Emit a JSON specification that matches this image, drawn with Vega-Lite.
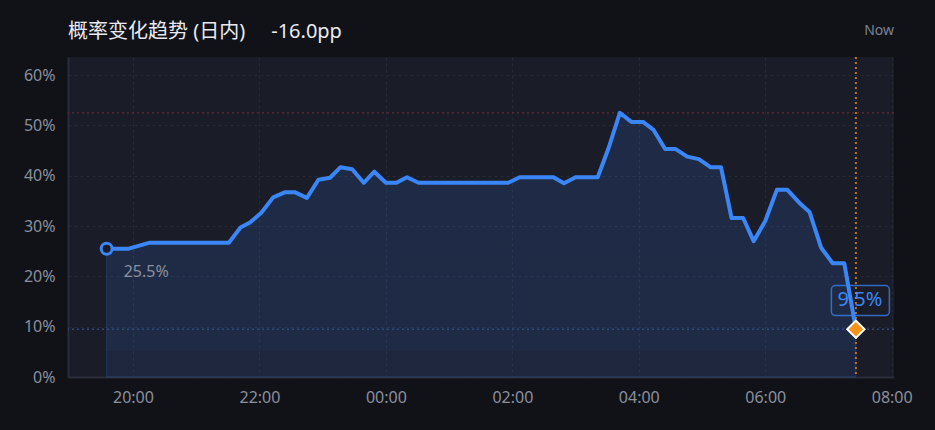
{
  "$schema": "https://vega.github.io/schema/vega-lite/v6.json",
  "autosize": {"type": "none"},
  "width": 826,
  "height": 320,
  "padding": {"left": 68, "top": 57, "right": 41, "bottom": 53},
  "background": "#111217",
  "config": {
    "view": {"fill": "#1a1c27", "stroke": null},
    "font": "Noto Sans",
    "axis": {
      "labelColor": "#8a8f9e",
      "labelFontSize": 16,
      "labelFont": "Noto Sans",
      "ticks": false,
      "domainColor": "#2a2d3b",
      "domainWidth": 2,
      "gridColor": "#262938",
      "gridDash": [3, 3],
      "gridWidth": 1,
      "labelFlush": false
    }
  },
  "title": {
    "text": "概率变化趋势 (日内)\u00a0\u00a0\u00a0\u00a0\u00a0-16.0pp",
    "anchor": "start",
    "frame": "group",
    "fontSize": 20,
    "fontWeight": "normal",
    "color": "#e8eaf0",
    "baseline": "alphabetic",
    "offset": -34,
    "font": "Noto Sans, Noto Sans CJK SC"
  },
  "datasets": {
    "series": [
      {"t": "2024-01-01T19:35:00Z", "v": 0.255},
      {"t": "2024-01-01T19:46:00Z", "v": 0.255},
      {"t": "2024-01-01T19:56:00Z", "v": 0.255},
      {"t": "2024-01-01T20:06:00Z", "v": 0.261},
      {"t": "2024-01-01T20:16:00Z", "v": 0.267},
      {"t": "2024-01-01T20:27:00Z", "v": 0.267},
      {"t": "2024-01-01T20:37:00Z", "v": 0.267},
      {"t": "2024-01-01T20:48:00Z", "v": 0.267},
      {"t": "2024-01-01T20:58:00Z", "v": 0.267},
      {"t": "2024-01-01T21:09:00Z", "v": 0.267},
      {"t": "2024-01-01T21:20:00Z", "v": 0.267},
      {"t": "2024-01-01T21:31:00Z", "v": 0.267},
      {"t": "2024-01-01T21:42:00Z", "v": 0.297},
      {"t": "2024-01-01T21:51:00Z", "v": 0.307},
      {"t": "2024-01-01T22:02:00Z", "v": 0.327},
      {"t": "2024-01-01T22:13:00Z", "v": 0.357},
      {"t": "2024-01-01T22:24:00Z", "v": 0.367},
      {"t": "2024-01-01T22:34:00Z", "v": 0.367},
      {"t": "2024-01-01T22:45:00Z", "v": 0.356},
      {"t": "2024-01-01T22:56:00Z", "v": 0.392},
      {"t": "2024-01-01T23:07:00Z", "v": 0.396},
      {"t": "2024-01-01T23:17:00Z", "v": 0.417},
      {"t": "2024-01-01T23:28:00Z", "v": 0.413},
      {"t": "2024-01-01T23:39:00Z", "v": 0.386},
      {"t": "2024-01-01T23:49:00Z", "v": 0.408},
      {"t": "2024-01-02T00:00:00Z", "v": 0.386},
      {"t": "2024-01-02T00:10:00Z", "v": 0.386},
      {"t": "2024-01-02T00:20:00Z", "v": 0.397},
      {"t": "2024-01-02T00:31:00Z", "v": 0.386},
      {"t": "2024-01-02T00:42:00Z", "v": 0.386},
      {"t": "2024-01-02T00:52:00Z", "v": 0.386},
      {"t": "2024-01-02T01:03:00Z", "v": 0.386},
      {"t": "2024-01-02T01:14:00Z", "v": 0.386},
      {"t": "2024-01-02T01:24:00Z", "v": 0.386},
      {"t": "2024-01-02T01:35:00Z", "v": 0.386},
      {"t": "2024-01-02T01:46:00Z", "v": 0.386},
      {"t": "2024-01-02T01:56:00Z", "v": 0.386},
      {"t": "2024-01-02T02:07:00Z", "v": 0.397},
      {"t": "2024-01-02T02:18:00Z", "v": 0.397},
      {"t": "2024-01-02T02:28:00Z", "v": 0.397},
      {"t": "2024-01-02T02:39:00Z", "v": 0.397},
      {"t": "2024-01-02T02:49:00Z", "v": 0.385},
      {"t": "2024-01-02T03:00:00Z", "v": 0.397},
      {"t": "2024-01-02T03:10:00Z", "v": 0.397},
      {"t": "2024-01-02T03:21:00Z", "v": 0.397},
      {"t": "2024-01-02T03:31:00Z", "v": 0.453},
      {"t": "2024-01-02T03:42:00Z", "v": 0.525},
      {"t": "2024-01-02T03:53:00Z", "v": 0.507},
      {"t": "2024-01-02T04:04:00Z", "v": 0.507},
      {"t": "2024-01-02T04:14:00Z", "v": 0.491},
      {"t": "2024-01-02T04:25:00Z", "v": 0.453},
      {"t": "2024-01-02T04:35:00Z", "v": 0.453},
      {"t": "2024-01-02T04:46:00Z", "v": 0.438},
      {"t": "2024-01-02T04:57:00Z", "v": 0.433},
      {"t": "2024-01-02T05:08:00Z", "v": 0.417},
      {"t": "2024-01-02T05:18:00Z", "v": 0.417},
      {"t": "2024-01-02T05:28:00Z", "v": 0.316},
      {"t": "2024-01-02T05:39:00Z", "v": 0.316},
      {"t": "2024-01-02T05:49:00Z", "v": 0.270},
      {"t": "2024-01-02T06:00:00Z", "v": 0.310},
      {"t": "2024-01-02T06:11:00Z", "v": 0.372},
      {"t": "2024-01-02T06:21:00Z", "v": 0.372},
      {"t": "2024-01-02T06:32:00Z", "v": 0.347},
      {"t": "2024-01-02T06:42:00Z", "v": 0.328},
      {"t": "2024-01-02T06:53:00Z", "v": 0.257},
      {"t": "2024-01-02T07:04:00Z", "v": 0.226},
      {"t": "2024-01-02T07:15:00Z", "v": 0.226},
      {"t": "2024-01-02T07:26:00Z", "v": 0.095}
    ],
    "start": [{"t": "2024-01-01T19:35:00Z", "v": 0.255, "label": "25.5%"}],
    "now": [{"t": "2024-01-02T07:26:00Z", "v": 0.095, "label": "9.5%"}],
    "peak": [{"v": 0.525}],
    "corner": [{"t": "2024-01-02T08:02:10Z", "v": 0.679, "label": "Now"}]
  },
  "layer": [
    {
      "data": {"name": "series"},
      "mark": {
        "type": "area",
        "color": {
          "gradient": "linear",
          "x1": 0, "y1": 0, "x2": 0, "y2": 1,
          "stops": [
            {"offset": 0, "color": "rgba(59,130,246,0.15)"},
            {"offset": 0.9, "color": "rgba(59,130,246,0.145)"},
            {"offset": 0.9, "color": "rgba(59,130,246,0.10)"},
            {"offset": 1, "color": "rgba(59,130,246,0.10)"}
          ]
        },
        "stroke": "#3b82f6",
        "strokeOpacity": 0.22,
        "strokeWidth": 1
      },
      "encoding": {
        "x": {
          "field": "t", "type": "temporal", "title": null,
          "scale": {"type": "utc", "domain": [1704135500000, 1704182530000]},
          "axis": {"format": "%H:%M", "values": [1704139200000, 1704146400000, 1704153600000, 1704160800000, 1704168000000, 1704175200000, 1704182400000], "labelPadding": 12, "labelOverlap": false}
        },
        "y": {
          "field": "v", "type": "quantitative", "title": null,
          "scale": {"domain": [0, 0.636], "nice": false},
          "axis": {"values": [0, 0.1, 0.2, 0.3, 0.4, 0.5, 0.6], "format": ".0%", "labelPadding": 13}
        }
      }
    },
    {
      "data": {"name": "peak"},
      "mark": {"type": "rule", "color": "#652b33", "strokeDash": [2, 3], "strokeWidth": 1.2},
      "encoding": {"y": {"field": "v", "type": "quantitative", "title": null}}
    },
    {
      "data": {"name": "now"},
      "mark": {"type": "rule", "color": "#2c4a80", "strokeDash": [2, 3], "strokeWidth": 1.5},
      "encoding": {"y": {"field": "v", "type": "quantitative", "title": null}}
    },
    {
      "data": {"name": "now"},
      "mark": {"type": "rule", "color": "#bd7212", "strokeDash": [2, 3], "strokeWidth": 2},
      "encoding": {"x": {"field": "t", "type": "temporal", "title": null}}
    },
    {
      "data": {"name": "series"},
      "mark": {"type": "line", "color": "#3b86f7", "strokeWidth": 4, "strokeJoin": "round", "strokeCap": "round"},
      "encoding": {
        "x": {"field": "t", "type": "temporal", "title": null},
        "y": {"field": "v", "type": "quantitative", "title": null}
      }
    },
    {
      "data": {"name": "start"},
      "mark": {"type": "point", "shape": "circle", "filled": true, "fill": "#1a1c27", "stroke": "#3b86f7", "strokeWidth": 3, "size": 120, "opacity": 1},
      "encoding": {
        "x": {"field": "t", "type": "temporal", "title": null},
        "y": {"field": "v", "type": "quantitative", "title": null}
      }
    },
    {
      "data": {"name": "start"},
      "mark": {"type": "text", "align": "left", "baseline": "middle", "dx": 17, "dy": 23, "fontSize": 16, "color": "#8a8f9e"},
      "encoding": {
        "x": {"field": "t", "type": "temporal", "title": null},
        "y": {"field": "v", "type": "quantitative", "title": null},
        "text": {"field": "label"}
      }
    },
    {
      "data": {"name": "now"},
      "mark": {"type": "point", "shape": "M-25,-15H25A4,4 0 0 1 29,-11V11A4,4 0 0 1 25,15H-25A4,4 0 0 1 -29,11V-11A4,4 0 0 1 -25,-15Z", "size": 4, "filled": false, "stroke": "#3b86f7", "strokeOpacity": 0.75, "strokeWidth": 1.5, "opacity": 1, "xOffset": 4.5, "yOffset": -28.6},
      "encoding": {
        "x": {"field": "t", "type": "temporal", "title": null},
        "y": {"field": "v", "type": "quantitative", "title": null}
      }
    },
    {
      "data": {"name": "now"},
      "mark": {"type": "text", "align": "center", "baseline": "middle", "dx": 4, "dy": -29, "fontSize": 20, "color": "#3b86f7"},
      "encoding": {
        "x": {"field": "t", "type": "temporal", "title": null},
        "y": {"field": "v", "type": "quantitative", "title": null},
        "text": {"field": "label"}
      }
    },
    {
      "data": {"name": "now"},
      "mark": {"type": "point", "shape": "diamond", "filled": true, "fill": "#f7931a", "stroke": "#ffffff", "strokeWidth": 2, "size": 300, "opacity": 1},
      "encoding": {
        "x": {"field": "t", "type": "temporal", "title": null},
        "y": {"field": "v", "type": "quantitative", "title": null}
      }
    },
    {
      "data": {"name": "corner"},
      "mark": {"type": "text", "align": "right", "baseline": "alphabetic", "fontSize": 14, "color": "#7d8294"},
      "encoding": {
        "x": {"field": "t", "type": "temporal", "title": null},
        "y": {"field": "v", "type": "quantitative", "title": null},
        "text": {"field": "label"}
      }
    }
  ]
}
